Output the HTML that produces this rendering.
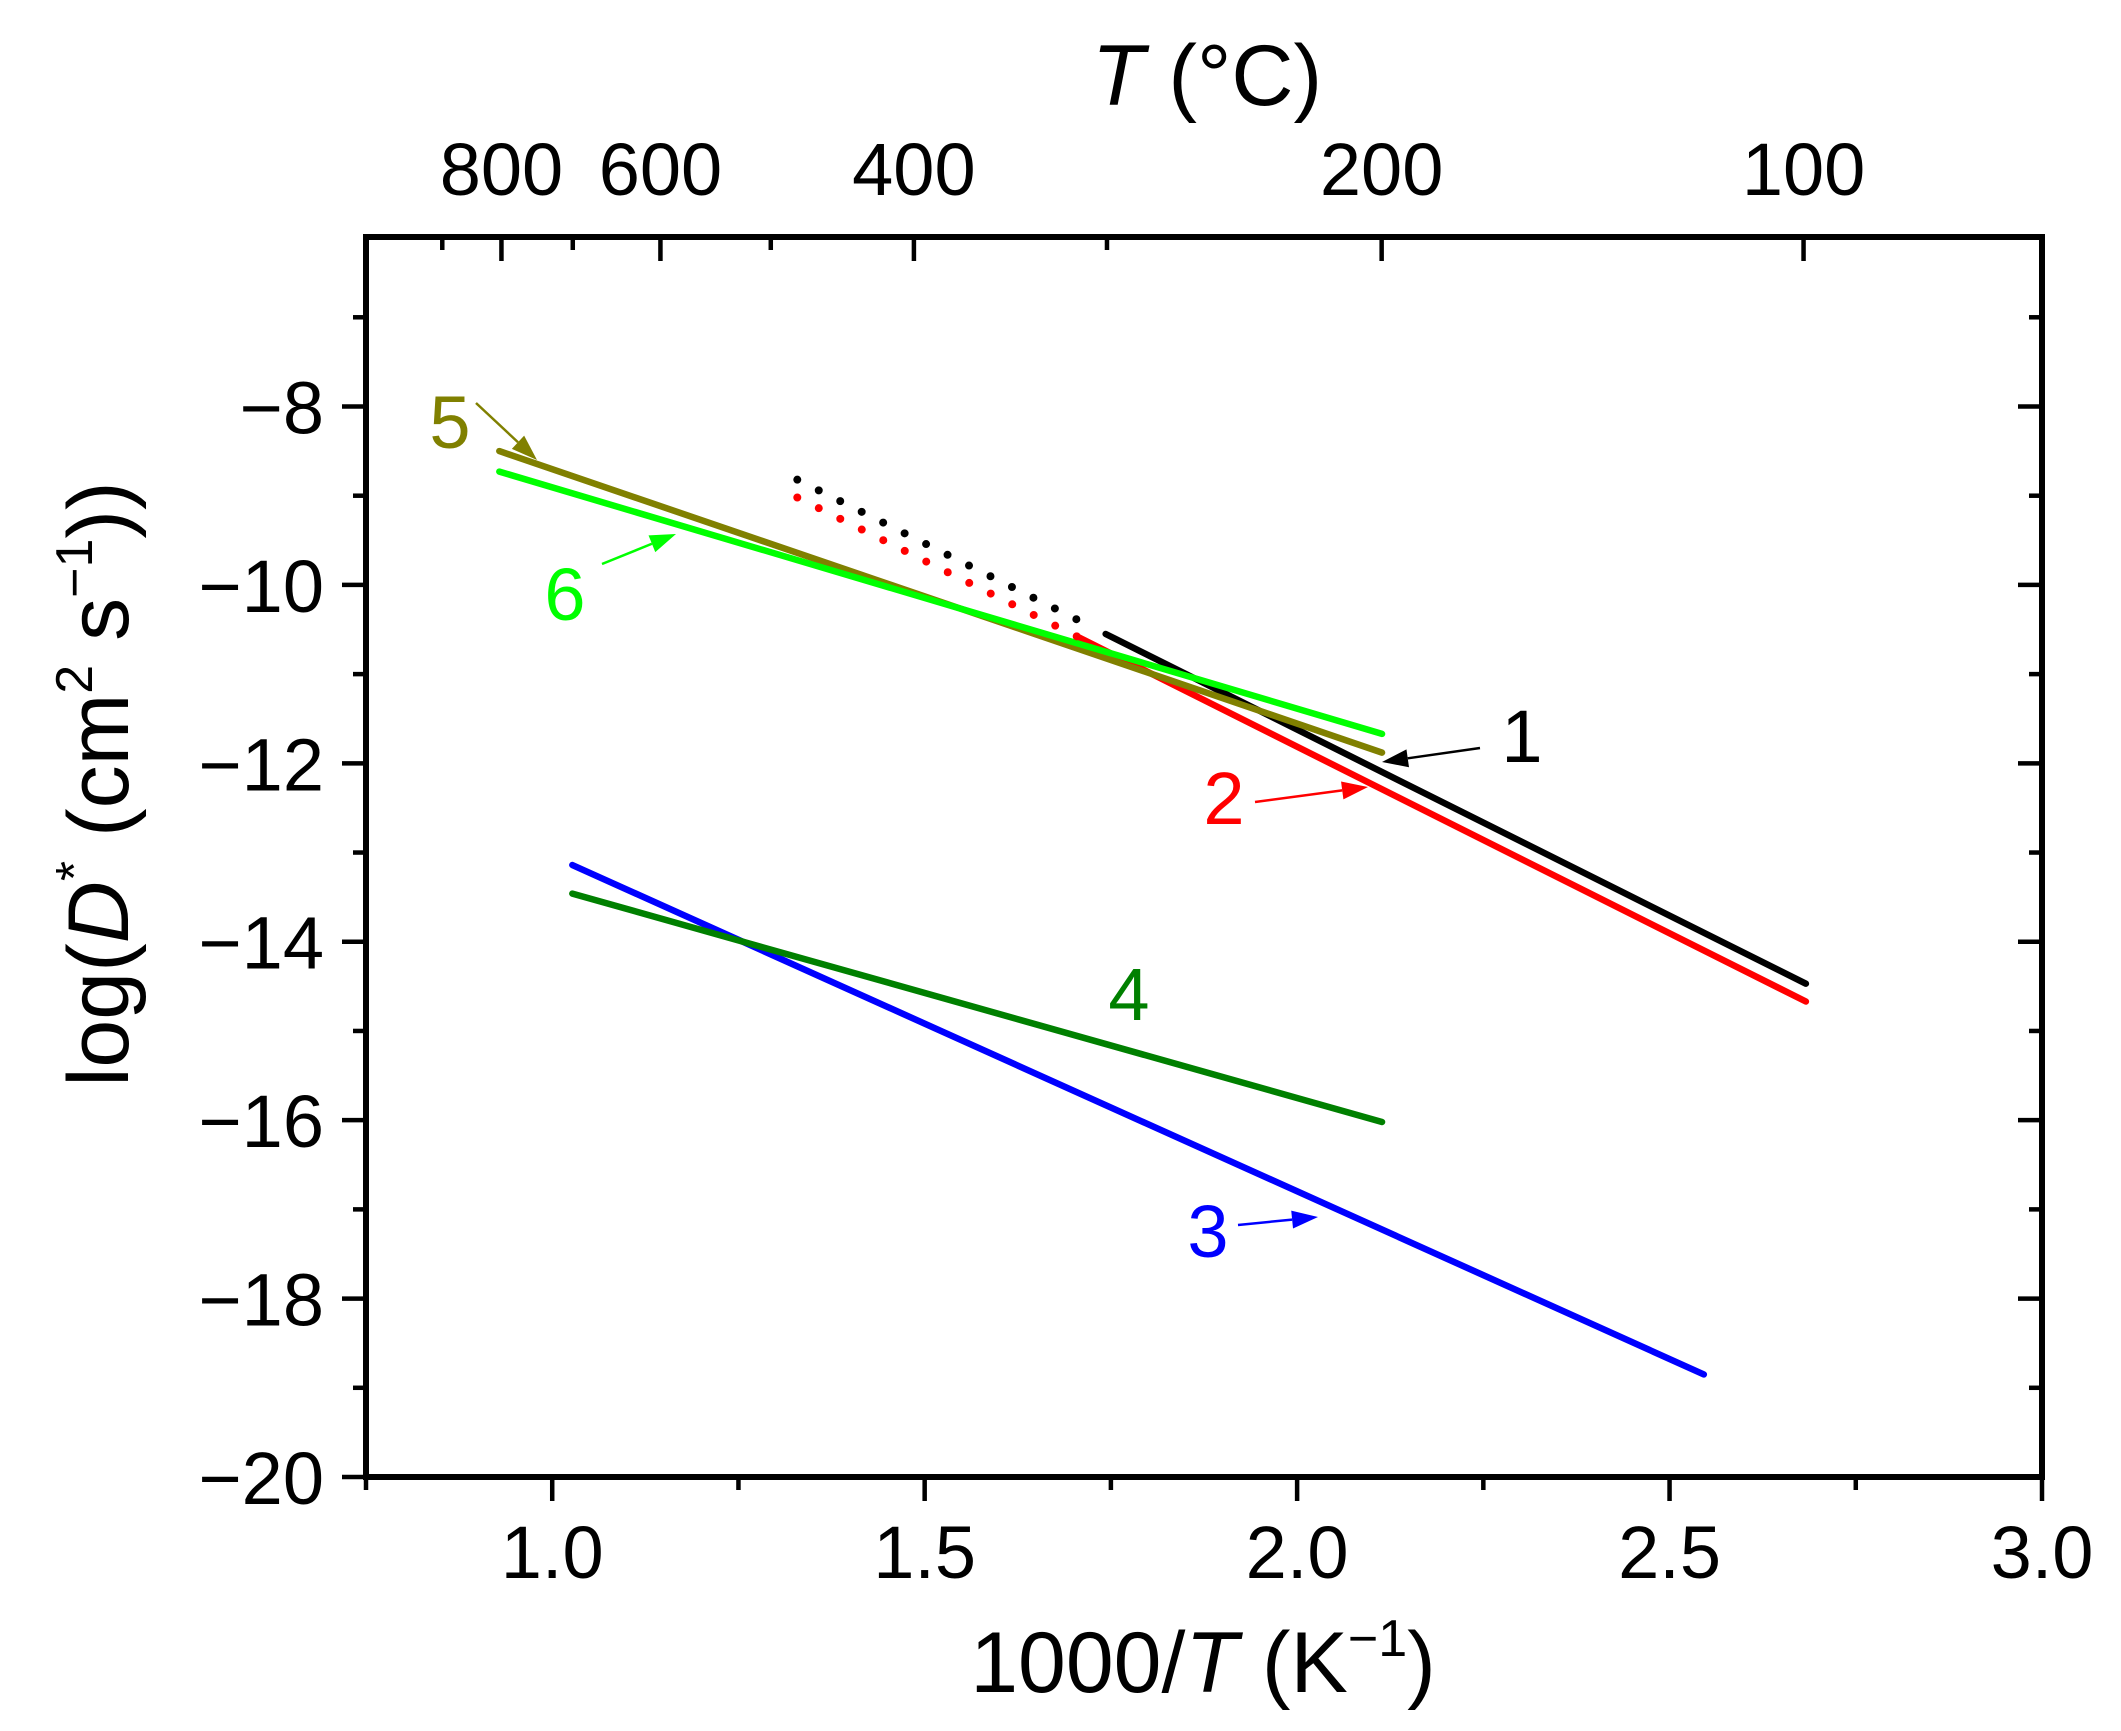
<!DOCTYPE html>
<html><head><meta charset="utf-8"><style>
html,body{margin:0;padding:0;background:#fff;}
svg{display:block;font-family:"Liberation Sans",sans-serif;}
</style></head><body>
<svg id="chart" width="2121" height="1731" viewBox="0 0 2121 1731" xmlns="http://www.w3.org/2000/svg">
<g id="plot"></g>
</svg>
<script>
// ---- data ----
const seriesNames = ["1","2","3","4","5","6"];
const seriesColors = ["#000000","#ff0000","#0000ff","#008000","#808000","#00ff00"];
const seriesX0 = [1.743, 1.705, 1.027, 1.027, 0.929, 0.929];
const seriesX1 = [2.683, 2.683, 2.546, 2.114, 2.114, 2.114];
const seriesY0 = [-10.55, -10.58, -13.14, -13.46, -8.50, -8.73];
const seriesY1 = [-14.47, -14.67, -18.85, -16.02, -11.88, -11.67];
const dottedX0 = [1.329, 1.329];
const dottedX1 = [1.705, 1.705];
const dottedY0 = [-8.82, -9.02];
const dottedY1 = [-10.39, -10.58];
const xTicks = [1.0, 1.5, 2.0, 2.5, 3.0];
const xTickLabels = ["1.0","1.5","2.0","2.5","3.0"];
const yTicks = [-20,-18,-16,-14,-12,-10,-8];
const yTickLabels = ["\u221220","\u221218","\u221216","\u221214","\u221212","\u221210","\u22128"];
const topMajorC = [800, 600, 400, 200, 100];
const topMinorC = [900, 700, 500, 300];

// ---- scales ----
const X0=366, X1=2042, Y0=1477, Y1=237;
const xmin=0.75, xmax=3.0, ymin=-20, ymax=-6.1;
const sx = v => X0 + (v - xmin) / (xmax - xmin) * (X1 - X0);
const sy = v => Y0 - (v - ymin) / (ymax - ymin) * (Y0 - Y1);
const NS="http://www.w3.org/2000/svg";
const g=document.getElementById('plot');
function mk(tag, attrs, parent){const e=document.createElementNS(NS,tag);for(const k in attrs)e.setAttribute(k,attrs[k]);(parent||g).appendChild(e);return e;}

// series
for(let i=0;i<seriesNames.length;i++){
  const l=mk('line',{x1:sx(seriesX0[i]),y1:sy(seriesY0[i]),x2:sx(seriesX1[i]),y2:sy(seriesY1[i]),stroke:seriesColors[i],'stroke-width':6.5,'stroke-linecap':'round'});
  
  
}
for(let i=0;i<dottedX0.length;i++){
  const l=mk('line',{x1:sx(dottedX0[i]),y1:sy(dottedY0[i]),x2:sx(dottedX1[i]),y2:sy(dottedY1[i]),stroke:seriesColors[i],'stroke-width':8,'stroke-linecap':'round','stroke-dasharray':'0 24'});
  
  
}

// axes frame
const fr=mk('rect',{x:X0,y:Y1,width:X1-X0,height:Y0-Y1,fill:'none',stroke:'#000','stroke-width':6});



// bottom ticks (outward) and labels
for(let v=0.75; v<=3.0001; v+=0.25){
  const major=Math.abs(v*2-Math.round(v*2))<1e-6;
  const t=mk('line',{x1:sx(v),y1:Y0,x2:sx(v),y2:Y0+(major?24:13),stroke:'#000','stroke-width':4.5});
  
  
}
xTicks.forEach((v,i)=>{
  const t=mk('text',{x:sx(v),y:1578,'font-size':74,'text-anchor':'middle'});
  t.textContent=xTickLabels[i];
  
  
});
// left ticks (outward), right ticks (inward)
for(let v=-20; v<=-7; v+=1){
  const major=v%2===0;
  const len=major?24:13;
  const a=mk('line',{x1:X0-len,y1:sy(v),x2:X0,y2:sy(v),stroke:'#000','stroke-width':4.5});
  
  
  const b=mk('line',{x1:X1-len,y1:sy(v),x2:X1,y2:sy(v),stroke:'#000','stroke-width':4.5});
  
  
}
yTicks.forEach((v,i)=>{
  const t=mk('text',{x:324,y:sy(v)+27,'font-size':74,'text-anchor':'end'});
  t.textContent=yTickLabels[i];
  
  
});
// top axis (inward ticks) in °C
const cx = c => sx(1000/(c+273.15));
topMajorC.forEach(c=>{
  const t=mk('line',{x1:cx(c),y1:Y1,x2:cx(c),y2:Y1+24,stroke:'#000','stroke-width':4.5});
  
  
  const l=mk('text',{x:cx(c),y:195,'font-size':74,'text-anchor':'middle'});
  l.textContent=String(c);
  
  
});
topMinorC.forEach(c=>{
  const t=mk('line',{x1:cx(c),y1:Y1,x2:cx(c),y2:Y1+13,stroke:'#000','stroke-width':4.5});
  
  
});

// annotations
const annot=[
 {t:"1",c:"#000000",x:1522,y:762,ax1:1480,ay1:748,ax2:1382,ay2:762},
 {t:"2",c:"#ff0000",x:1224,y:824,ax1:1255,ay1:802,ax2:1368,ay2:787},
 {t:"3",c:"#0000ff",x:1208,y:1257,ax1:1238,ay1:1225,ax2:1318,ay2:1217},
 {t:"4",c:"#008000",x:1129,y:1020},
 {t:"5",c:"#808000",x:450,y:448,ax1:476,ay1:403,ax2:537,ay2:460},
 {t:"6",c:"#00ff00",x:565,y:620,ax1:602,ay1:564,ax2:676,ay2:534}
];
annot.forEach(a=>{
  const t=mk('text',{x:a.x,y:a.y,'font-size':74,'text-anchor':'middle',fill:a.c});
  t.textContent=a.t;
  
  
  if(a.ax1!==undefined){
    const dx=a.ax2-a.ax1, dy=a.ay2-a.ay1, L=Math.hypot(dx,dy), ux=dx/L, uy=dy/L;
    const bx=a.ax2-ux*26, by=a.ay2-uy*26;
    const ln=mk('line',{x1:a.ax1,y1:a.ay1,x2:bx,y2:by,stroke:a.c,'stroke-width':2.5});
    
    
    const p=mk('polygon',{points:`${a.ax2},${a.ay2} ${bx-uy*9},${by+ux*9} ${bx+uy*9},${by-ux*9}`,fill:a.c});
    
    
  }
});
</script>
<div style="position:absolute;left:0;top:0;width:2121px;height:1731px;pointer-events:none;">
<svg width="2121" height="1731" style="position:absolute;left:0;top:0;font-family:'Liberation Sans',sans-serif;">
<text x="1203" y="1692" font-size="86" text-anchor="middle">1000/<tspan font-style="italic">T</tspan> (K<tspan font-size="52" dy="-36">−1</tspan><tspan dy="36">)</tspan></text>
<text x="1207" y="105" font-size="86" text-anchor="middle"><tspan font-style="italic">T</tspan> (°C)</text>
<text transform="translate(128,784) rotate(-90)" font-size="86" text-anchor="middle">log(<tspan font-style="italic">D</tspan><tspan font-size="52" dy="-36">*</tspan><tspan dy="36"> (cm</tspan><tspan font-size="52" dy="-36">2</tspan><tspan dy="36"> s</tspan><tspan font-size="52" dy="-36">−1</tspan><tspan dy="36">))</tspan></text>
</svg></div>
</body></html>
